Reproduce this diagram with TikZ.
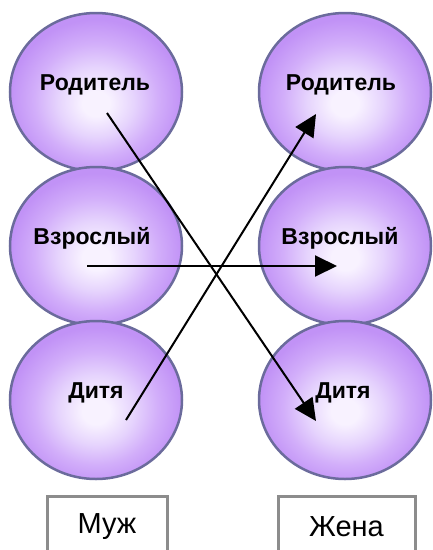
\documentclass[tikz,border=0pt]{standalone}
\usepackage{fontspec}
\setmainfont{Liberation Sans}
\usetikzlibrary{arrows.meta,shapes.geometric}
\definecolor{balledge}{HTML}{6B6B9C}
\definecolor{boxedge}{HTML}{8C8C8C}
\definecolor{ballin}{HTML}{F8F2FF}
\definecolor{ballmidA}{HTML}{E6D4FD}
\definecolor{ballmidB}{HTML}{D2AEFA}
\definecolor{ballout}{HTML}{C192F6}
\pgfdeclareradialshading{ballshade}{\pgfpoint{0bp}{-4bp}}{color(0bp)=(ballin); color(4bp)=(ballin); color(11bp)=(ballmidA); color(18bp)=(ballmidB); color(25bp)=(ballout); color(50bp)=(ballout)}
\tikzset{
  ball/.style={ellipse, draw=balledge, line width=2.5pt, shading=ballshade,
    minimum width=172pt, minimum height=158pt, inner sep=0pt},
  role/.style={font=\bfseries\fontsize{23}{26}\selectfont, inner sep=0pt,
    text height=16.5pt, text depth=4.5pt},
  person/.style={draw=boxedge, line width=3pt, fill=white,
    font=\fontsize{29}{32}\selectfont, minimum height=62pt, anchor=north, inner sep=0pt},
  flow/.style={line width=2pt, -{Triangle[length=22pt,width=21pt]}}
}
\begin{document}
\begin{tikzpicture}[x=1pt,y=-1pt]
\useasboundingbox (0,0) rectangle (433,550);
% left column (Муж)
\node[ball] (LP) at (96,92) {};
\node[ball] (LA) at (96,246) {};
\node[ball] (LC) at (96,400) {};
% right column (Жена)
\node[ball] (RP) at (345,92) {};
\node[ball] (RA) at (345,246) {};
\node[ball] (RC) at (345,400) {};
% labels
\node[role] (LPt) at (95,84) {Родитель};
\node[role] (LAt) at (92,238) {Взрослый};
\node[role] (LCt) at (96,392) {Дитя};
\node[role] (RPt) at (341,84) {Родитель};
\node[role] (RAt) at (340,238) {Взрослый};
\node[role] (RCt) at (343,392) {Дитя};
% arrow end points
\coordinate (s1) at ([shift={(11,21)}]LP.center);
\coordinate (t1) at ([shift={(-29,21)}]RC.center);
\coordinate (s2) at ([shift={(30,20)}]LC.center);
\coordinate (t2) at ([shift={(-29,22)}]RP.center);
\coordinate (s3) at ([shift={(-9,20)}]LA.center);
\coordinate (t3) at ([shift={(-8,20)}]RA.center);
\draw[flow] (s1) -- (t1);
\draw[flow] (s2) -- (t2);
\draw[flow] (s3) -- (t3);
% persons
\node[person, minimum width=120pt] (M) at (107,494.5) {Муж};
\node[person, minimum width=137pt] (W) at (346.5,494.5) {Жена};
\end{tikzpicture}
\end{document}
